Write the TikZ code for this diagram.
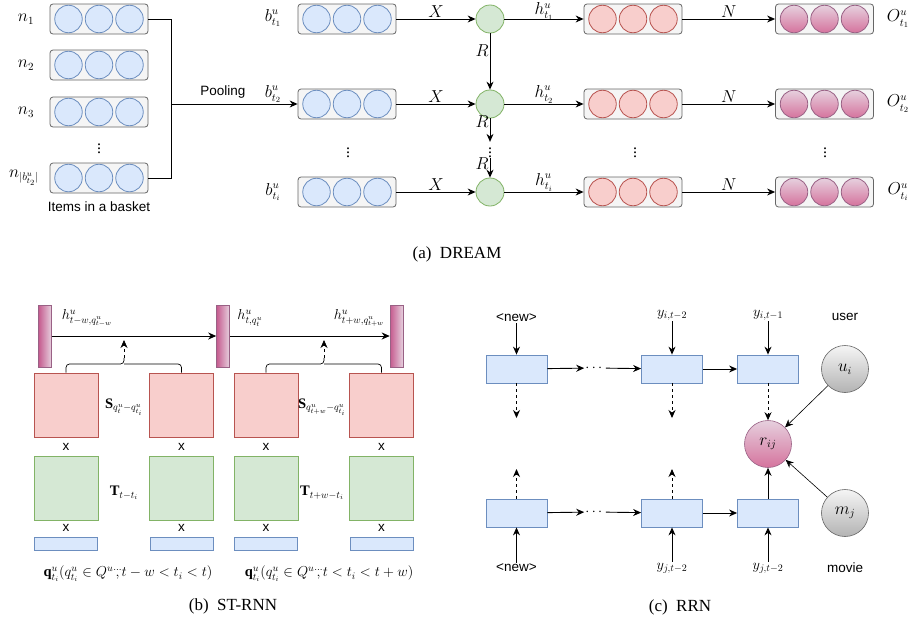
\documentclass[tikz,border=0pt]{standalone}
\usepackage{amsmath}
\usepackage{fontspec}
\setmainfont{Liberation Serif}
\setsansfont{Liberation Sans}
\usetikzlibrary{arrows.meta,shadings}
\definecolor{bfill}{HTML}{DAE8FC}\definecolor{bdraw}{HTML}{6C8EBF}
\definecolor{rfill}{HTML}{F8CECC}\definecolor{rdraw}{HTML}{B85450}
\definecolor{gfill}{HTML}{D5E8D4}\definecolor{gdraw}{HTML}{82B366}
\definecolor{boxfill}{HTML}{F5F5F5}\definecolor{boxdraw}{HTML}{666666}
\definecolor{pkA}{HTML}{E6D0DE}\definecolor{pkB}{HTML}{D5739D}\definecolor{pkC}{HTML}{C55A8E}\definecolor{pkdraw}{HTML}{996185}
\definecolor{gyA}{HTML}{F5F5F5}\definecolor{gyB}{HTML}{B3B3B3}
\tikzset{
  holder/.style={draw=boxdraw,fill=boxfill,rounded corners=3pt,minimum width=98pt,minimum height=30pt,inner sep=0pt,line width=0.8pt},
  bdot/.style={circle,draw=bdraw,fill=bfill,minimum size=27.5pt,inner sep=0pt,line width=0.8pt},
  rdot/.style={circle,draw=rdraw,fill=rfill,minimum size=27.5pt,inner sep=0pt,line width=0.8pt},
  pdot/.style={circle,draw=pkdraw,top color=pkA,bottom color=pkB,minimum size=27.5pt,inner sep=0pt,line width=0.8pt},
  gdot/.style={circle,draw=gdraw,fill=gfill,minimum size=28pt,inner sep=0pt,line width=0.8pt},
  arr/.style={-{Stealth[length=8pt,width=7pt]},line width=0.9pt},
  plain/.style={line width=0.9pt},
  dsh/.style={dash pattern=on 3pt off 3pt},
  lab/.style={font=\fontsize{16}{16}\selectfont,inner sep=2pt},
  mlab/.style={font=\fontsize{14.5}{14.5}\selectfont,inner sep=1pt},
  clab/.style={font=\fontsize{14}{14}\selectfont,inner sep=1pt},
  sflab/.style={font=\sffamily\fontsize{13.5}{13.5}\selectfont,inner sep=1pt},
  captxt/.style={font=\fontsize{17}{17}\selectfont},
  vbar/.style={draw=pkdraw,left color=pkC,right color=pkA,minimum width=13pt,minimum height=62pt,inner sep=0pt,line width=0.6pt},
  rsq/.style={draw=rdraw,fill=rfill,minimum size=64pt,inner sep=0pt,line width=0.8pt},
  gsq/.style={draw=gdraw,fill=gfill,minimum size=64pt,inner sep=0pt,line width=0.8pt},
  bstrip/.style={draw=bdraw,fill=bfill,minimum width=63pt,minimum height=13pt,inner sep=0pt,line width=0.8pt},
  rbox/.style={draw=bdraw,fill=bfill,minimum width=61pt,minimum height=28pt,inner sep=0pt,line width=0.8pt},
  pball/.style={circle,draw=pkdraw,top color=pkA,bottom color=pkB,minimum size=47pt,inner sep=0pt,line width=0.6pt,font=\fontsize{16}{16}\selectfont},
  gball/.style={circle,draw=boxdraw,top color=gyA,bottom color=gyB,minimum size=47pt,inner sep=0pt,line width=0.6pt,font=\fontsize{16}{16}\selectfont},
}
\begin{document}
\begin{tikzpicture}[x=1pt,y=-1pt]
\useasboundingbox[fill=white] (0,0) rectangle (909,621);
% ===== (a) DREAM =====
\foreach \nm/\y in {n1/19,n2/65,n3/112,n4/178}{
  \node[holder] (\nm) at (99,\y) {};
  \foreach \k/\dx in {a/-30.5,b/0,c/30.5} \node[bdot] (\nm-\k) at (99+\dx,\y) {};
}
\node[lab] (ln1) at (26,19) {$n_1$};
\node[lab] (ln2) at (26,65) {$n_2$};
\node[lab] (ln3) at (26,112) {$n_3$};
\node[lab,inner sep=0pt] (ln4) at (24,178) {$n_{|b^u_{t_2}|}$};
\node[lab,inner sep=0pt] (dl) at (99,146) {$\vdots$};
\node[sflab] (items) at (99,207) {Items in a basket};
\coordinate (j1) at (171,19);
\coordinate (j4) at (171,178);
\coordinate (jm) at (171,104);
\draw[plain] (n1.east) -- (j1) -- (j4) -- (n4.east);

\foreach \nm/\y in {b1/19,b2/104,b3/192}{
  \node[holder] (\nm) at (347,\y) {};
  \foreach \k/\dx in {a/-30.5,b/0,c/30.5} \node[bdot] (\nm-\k) at (347+\dx,\y) {};
}
\foreach \nm/\y in {h1/19,h2/104,h3/192}{
  \node[holder] (\nm) at (633,\y) {};
  \foreach \k/\dx in {a/-30.5,b/0,c/30.5} \node[rdot] (\nm-\k) at (633+\dx,\y) {};
}
\foreach \nm/\y in {o1/19,o2/104,o3/192}{
  \node[holder] (\nm) at (824.5,\y) {};
  \foreach \k/\dx in {a/-30.5,b/0,c/30.5} \node[pdot] (\nm-\k) at (824.5+\dx,\y) {};
}
\node[gdot] (g1) at (490,19) {};
\node[gdot] (g2) at (490,104) {};
\node[gdot] (g3) at (490,192) {};

\draw[arr] (jm) -- (b2.west) node[pos=0.41,above,sflab,inner sep=5pt] {Pooling};

\node[lab] (lb1) at (273,18) {$b^u_{t_1}$};
\node[lab] (lb2) at (273,94) {$b^u_{t_2}$};
\node[lab] (lb3) at (273,192) {$b^u_{t_i}$};
\node[lab] (lo1) at (898,19) {$O^u_{t_1}$};
\node[lab] (lo2) at (898,104) {$O^u_{t_2}$};
\node[lab] (lo3) at (898,192) {$O^u_{t_i}$};

\foreach \i in {1,2,3}{
  \draw[arr] (b\i) -- (g\i) node[midway,above,lab,inner sep=1.5pt] {$X$};
  \draw[arr] (h\i) -- (o\i) node[midway,above,lab,inner sep=1.5pt] {$N$};
}
\draw[arr] (g1) -- (h1) node[midway,above,lab,inner sep=0pt,yshift=-2pt] {$h^u_{t_1}$};
\draw[arr] (g2) -- (h2) node[midway,above,lab,inner sep=0.5pt] {$h^u_{t_2}$};
\draw[arr] (g3) -- (h3) node[midway,above,lab,inner sep=0.5pt] {$h^u_{t_i}$};

\node[lab,inner sep=0pt] (gdots) at (490,150) {$\vdots$};
\draw[arr] (g1) -- (g2) node[pos=0.3,left,lab,inner sep=1pt] {$R$};
\draw[arr] (g2) -- (gdots.north) node[pos=0.15,left,lab,inner sep=1pt] {$R$};
\draw[arr] (gdots.south) -- (g3) node[pos=0.3,left,lab,inner sep=1pt] {$R$};

\node[lab,inner sep=0pt] (dm) at (348,150) {$\vdots$};
\node[lab,inner sep=0pt] (dh) at (635,150) {$\vdots$};
\node[lab,inner sep=0pt] (do) at (825,150) {$\vdots$};

\node[captxt] (capa) at (457,254) {(a)\ \ DREAM};

% ===== (b) ST-RNN =====
\node[vbar] (p1) at (45,336) {};
\node[vbar] (p2) at (223,336) {};
\node[vbar] (p3) at (396.5,336) {};
\draw[arr] (p1) -- (p2);
\draw[arr] (p2) -- (p3);
\node[mlab] (hl1) at (87,318) {$h^u_{t-w,q^u_{t-w}}$};
\node[mlab] (hl2) at (250,318) {$h^u_{t,q^u_t}$};
\node[mlab] (hl3) at (359,318) {$h^u_{t+w,q^u_{t+w}}$};

\foreach \nm/\x in {s1/66,s2/181.5,s3/266,s4/381.5}{
  \node[rsq] (\nm) at (\x,405) {};
  \node[gsq] (t\nm) at (\x,488) {};
  \node[bstrip] (q\nm) at (\x,543.5) {};
  \node[sflab] (xa\nm) at (\x,447) {x};
  \node[sflab] (xb\nm) at (\x,528) {x};
}
\coordinate (c1) at (124,364);
\coordinate (c1t) at (124,358);
\coordinate (c1a) at (124,340);
\coordinate (c2) at (324,364);
\coordinate (c2t) at (324,358);
\coordinate (c2a) at (324,340);
\draw[line width=0.7pt,rounded corners=3.5pt] (s1.north) |- (c1) -- (c1t);
\draw[line width=0.7pt,rounded corners=3.5pt] (s2.north) |- (c1);
\draw[line width=0.7pt,rounded corners=3.5pt] (s3.north) |- (c2) -- (c2t);
\draw[line width=0.7pt,rounded corners=3.5pt] (s4.north) |- (c2);
\draw[arr,line width=0.7pt,dsh] (c1t) -- (c1a);
\draw[arr,line width=0.7pt,dsh] (c2t) -- (c2a);

\node[mlab] (sl1) at (124,407) {$\mathbf{S}_{q^u_t-q^u_{t_i}}$};
\node[mlab] (sl2) at (322,407) {$\mathbf{S}_{q^u_{t+w}-q^u_{t_i}}$};
\node[mlab] (tl1) at (124,493) {$\mathbf{T}_{t-t_i}$};
\node[mlab] (tl2) at (322,493) {$\mathbf{T}_{t+w-t_i}$};
\node[mlab] (f1) at (128,574) {$\mathbf{q}^u_{t_i}(q^u_{t_i}\in Q^{u}\overset{\cdots}{,}t-w<t_i<t)$};
\node[mlab] (f2) at (329,574) {$\mathbf{q}^u_{t_i}(q^u_{t_i}\in Q^{u}\overset{\cdots}{,}t<t_i<t+w)$};
\node[captxt] (capb) at (233,606) {(b)\ \ ST-RNN};

% ===== (c) RRN =====
\node[rbox] (u1) at (516.5,369) {};
\node[rbox] (u2) at (672,369) {};
\node[rbox] (u3) at (768,369) {};
\node[rbox] (v1) at (516.5,513) {};
\node[rbox] (v2) at (672,513) {};
\node[rbox] (v3) at (768,513) {};
\node[pball] (rij) at (768,444) {$r_{ij}$};
\node[gball] (ui) at (845,369) {$u_i$};
\node[gball] (mj) at (845,513) {$m_j$};

\node[sflab] (tn1) at (516.5,318) {<new>};
\node[clab] (ty2) at (672,315) {$y_{i,t-2}$};
\node[clab] (ty3) at (768,315) {$y_{i,t-1}$};
\node[sflab] (usr) at (845,317) {user};
\node[sflab] (bn1) at (516.5,568) {<new>};
\node[clab] (by2) at (672,568) {$y_{j,t-2}$};
\node[clab] (by3) at (768,568) {$y_{j,t-2}$};
\node[sflab] (mov) at (845,568) {movie};

\draw[arr] (tn1) -- (u1);
\draw[arr] (ty2) -- (u2);
\draw[arr] (ty3) -- (u3);
\draw[arr] (bn1) -- (v1);
\draw[arr] (by2) -- (v2);
\draw[arr] (by3) -- (v3);

\node[clab] (hd1) at (595,368) {$\cdots$};
\node[clab] (hd2) at (595,512) {$\cdots$};
\draw[arr] (u1) -- (hd1);
\draw[arr] (hd1) -- (u2);
\draw[arr] (u2) -- (u3);
\draw[arr] (v1) -- (hd2);
\draw[arr] (hd2) -- (v2);
\draw[arr] (v2) -- (v3);

\coordinate (e1) at (516.5,418);
\coordinate (e2) at (672,418);
\coordinate (k1) at (516.5,469);
\coordinate (k2) at (672,469);
\draw[arr,dsh] (u1) -- (e1);
\draw[arr,dsh] (u2) -- (e2);
\draw[arr,dsh] (u3) -- (rij);
\draw[arr,dsh] (v1) -- (k1);
\draw[arr,dsh] (v2) -- (k2);
\draw[arr] (v3) -- (rij);
\draw[arr,line width=0.6pt] (ui) -- (rij);
\draw[arr,line width=0.6pt] (mj) -- (rij);
\node[captxt] (capc) at (680,607) {(c)\ \ RRN};
\end{tikzpicture}
\end{document}
